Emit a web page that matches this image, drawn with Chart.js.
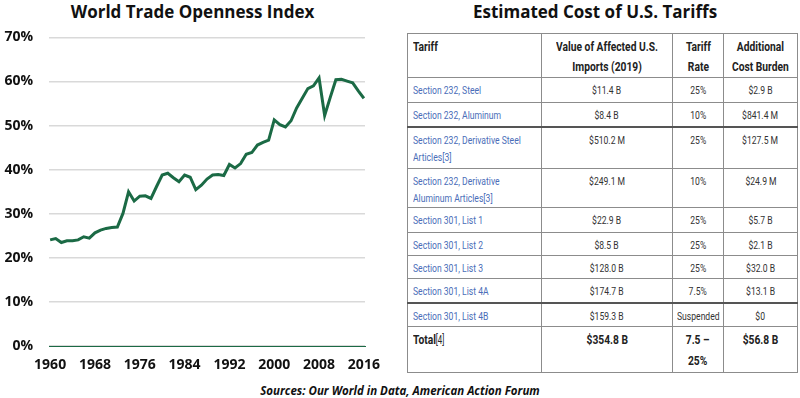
<!DOCTYPE html>
<html>
<head>
<meta charset="utf-8">
<script src="https://cdn.jsdelivr.net/npm/chart.js@4.4.1/dist/chart.umd.min.js"></script>
<style>
  html, body { margin: 0; padding: 0; background: #fff; }
  body { width: 800px; height: 398px; position: relative; overflow: hidden; font-family: "Open Sans", sans-serif; }
  .titulo { position: absolute; top: 0; font-weight: bold; font-size: 17px; color: #111; text-align: center; line-height: 24px; }
  #boxGrafico { position: absolute; left: 0; top: 13px; width: 395px; height: 370px; }
  #tabela { position: absolute; left: 407px; top: 33px; width: 390px; border-collapse: collapse; table-layout: fixed;
            font-family: Roboto, sans-serif; font-size: 11px; color: #333; }
  #tabela td, #tabela th { border: 1px solid #8c8c8c; padding: 4px 0 0 0; vertical-align: top; line-height: 17px; box-sizing: border-box; overflow: visible; }
  #tabela th { font-weight: bold; font-size: 13.5px; line-height: 20px; padding-top: 2px; color: #222; }
  .c { display: flex; justify-content: center; }
  .c.nome { justify-content: flex-start; padding-left: 5px; }
  .c span { display: inline-block; white-space: nowrap; transform: scaleX(0.78); transform-origin: center top; text-align: center; }
  .c.nome span { transform-origin: left top; text-align: left; }
  th .c span, tr.total .c span { transform: scaleX(0.76); }
  td .c.nome span { color: #4a6db8; }
  #tabela tr.total td { font-weight: bold; font-size: 13.5px; line-height: 21px; padding-top: 2px; color: #222; }
  #tabela tr.total td .c.nome span { color: #222; }
  #tabela tr.grosso td { border-bottom: 2px solid #555; }
  .ref { color: #4a6db8; font-weight: normal; }
  #fonte { position: absolute; left: 0; width: 800px; top: 384px; text-align: center; font-weight: bold; font-style: italic; font-size: 11.5px; color: #111; line-height: 14px; }
</style>
</head>
<body>
<div class="titulo" style="left:0;width:385px;">World Trade Openness Index</div>
<div class="titulo" style="left:395px;width:400px;">Estimated Cost of U.S. Tariffs</div>
<div id="boxGrafico"><canvas id="graficoAbertura"></canvas></div>
<table id="tabela"></table>
<div id="fonte">Sources: Our World in Data, American Action Forum</div>

<script>
// --- DADOS DO GRAFICO ---
const anos = [1960, 1961, 1962, 1963, 1964, 1965, 1966, 1967, 1968, 1969,
              1970, 1971, 1972, 1973, 1974, 1975, 1976, 1977, 1978, 1979,
              1980, 1981, 1982, 1983, 1984, 1985, 1986, 1987, 1988, 1989,
              1990, 1991, 1992, 1993, 1994, 1995, 1996, 1997, 1998, 1999,
              2000, 2001, 2002, 2003, 2004, 2005, 2006, 2007, 2008, 2009,
              2010, 2011, 2012, 2013, 2014, 2015, 2016];
const abertura = [24.1, 24.4, 23.5, 23.9, 23.9, 24.1, 24.8, 24.5, 25.7, 26.3,
                  26.7, 26.9, 27.0, 30.1, 35.0, 32.9, 34.0, 34.1, 33.5, 36.2,
                  38.8, 39.2, 38.2, 37.3, 38.8, 38.3, 35.5, 36.5, 37.9, 38.8,
                  38.9, 38.7, 41.2, 40.4, 41.4, 43.5, 43.9, 45.6, 46.2, 46.7,
                  51.3, 50.2, 49.7, 51.1, 54.0, 56.2, 58.4, 59.0, 60.8, 52.3,
                  56.4, 60.4, 60.5, 60.1, 59.7, 57.9, 56.2];
const anosEixo = [1960, 1968, 1976, 1984, 1992, 2000, 2008, 2016];
const pctEixo = [0, 10, 20, 30, 40, 50, 60, 70];

// --- DADOS DA TABELA ---
const cabecalho = ['Tariff', 'Value of Affected U.S.<br>Imports (2019)', 'Tariff<br>Rate', 'Additional<br>Cost Burden'];
const tarifas = ['Section 232, Steel', 'Section 232, Aluminum', 'Section 232, Derivative Steel<br>Articles[3]',
                 'Section 232, Derivative<br>Aluminum Articles[3]', 'Section 301, List 1', 'Section 301, List 2',
                 'Section 301, List 3', 'Section 301, List 4A', 'Section 301, List 4B'];
const valoresImport = ['$11.4 B', '$8.4 B', '$510.2 M', '$249.1 M', '$22.9 B', '$8.5 B', '$128.0 B', '$174.7 B', '$159.3 B'];
const aliquotas = ['25%', '10%', '25%', '10%', '25%', '25%', '25%', '7.5%', 'Suspended'];
const custos = ['$2.9 B', '$841.4 M', '$127.5 M', '$24.9 M', '$5.7 B', '$2.1 B', '$32.0 B', '$13.1 B', '$0'];
const totalLinha = ['Total<span class="ref">[4]</span>', '$354.8 B', '7.5 –<br>25%', '$56.8 B'];

// alturas das linhas (px) e linhas com borda grossa
const alturas = [44, 25, 24, 42, 39, 25, 23, 23, 24, 24, 46];
const grossas = [1, 7];

function celula(tag, txt, primeira) {
    return `<${tag}><div class="c${primeira ? ' nome' : ''}"><span>${txt}</span></div></${tag}>`;
}

function montarTabela() {
    const tabela = document.getElementById('tabela');
    const larg = [134, 131, 51, 74];
    let html = '<colgroup>' + larg.map(w => `<col style="width:${w}px">`).join('') + '</colgroup>';
    html += `<tr style="height:${alturas[0]}px">` + cabecalho.map((c, i) => celula('th', c, i === 0)).join('') + '</tr>';
    tarifas.forEach((t, i) => {
        const cls = grossas.includes(i) ? 'grosso' : '';
        html += `<tr class="${cls}" style="height:${alturas[i + 1]}px">` +
            [t, valoresImport[i], aliquotas[i], custos[i]].map((c, j) => celula('td', c, j === 0)).join('') + '</tr>';
    });
    html += `<tr class="total" style="height:${alturas[alturas.length - 1]}px">` +
        totalLinha.map((c, i) => celula('td', c, i === 0)).join('') + '</tr>';
    tabela.innerHTML = html;
}
montarTabela();

// --- GRAFICO ---
const verde = '#1b6a45';
const ctx = document.getElementById('graficoAbertura').getContext('2d');
new Chart(ctx, {
    type: 'line',
    data: {
        datasets: [{
            data: anos.map((a, i) => ({ x: a, y: abertura[i] })),
            borderColor: verde,
            borderWidth: 3,
            pointRadius: 0,
            tension: 0,
            fill: false
        }]
    },
    options: {
        responsive: true,
        maintainAspectRatio: false,
        animation: false,
        layout: { padding: { top: 3, right: 30, left: 0, bottom: 0 } },
        plugins: { legend: { display: false }, tooltip: { enabled: false } },
        scales: {
            x: {
                type: 'linear',
                min: 1959.8,
                max: 2016.2,
                afterBuildTicks: (s) => { s.ticks = anosEixo.map(v => ({ value: v })); },
                grid: { display: false, drawTicks: false },
                border: { display: true, color: verde, width: 1 },
                ticks: { padding: 10, color: '#111', font: { family: 'Open Sans', size: 14, weight: 'bold' }, maxRotation: 0,
                         callback: v => String(v) }
            },
            y: {
                min: 0,
                max: 70,
                afterBuildTicks: (s) => { s.ticks = pctEixo.map(v => ({ value: v })); },
                afterFit: (s) => { s.width = 49; },
                grid: { color: '#d9d9d9', lineWidth: 1.5, drawTicks: false },
                border: { display: false },
                ticks: { padding: 16, color: '#111', font: { family: 'Open Sans', size: 14, weight: 'bold' },
                         callback: v => v + '%' }
            }
        }
    }
});
</script>
</body>
</html>
